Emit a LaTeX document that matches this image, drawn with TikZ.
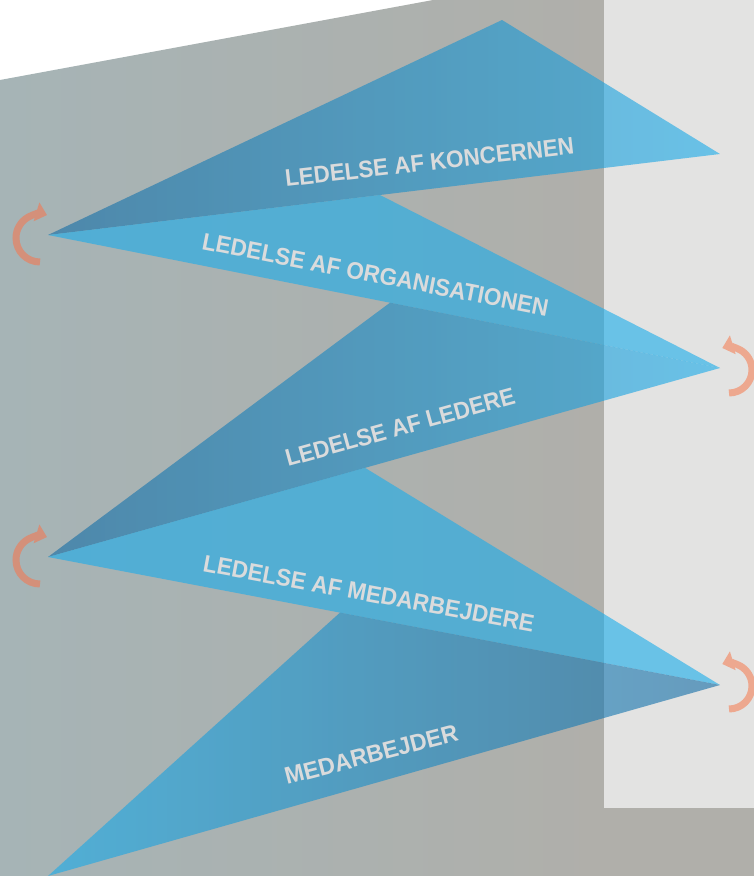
\documentclass[tikz,border=0pt]{standalone}
\usepackage{fontspec}
\setmainfont{Liberation Sans}
\usetikzlibrary{arrows.meta}
\definecolor{bgL}{RGB}{166,180,182}
\definecolor{bgR}{RGB}{176,175,170}
\definecolor{panel}{RGB}{227,227,226}
\definecolor{lblue}{RGB}{25,172,235}
\definecolor{dblue}{RGB}{19,107,164}
\definecolor{arrL}{RGB}{212,144,122}
\definecolor{arrR}{RGB}{237,168,143}
\definecolor{txt}{RGB}{218,219,220}
\begin{document}
\begin{tikzpicture}[x=1pt,y=-1pt,
  lbl/.style={anchor=base west, inner sep=0pt, text=txt, font=\fontsize{24}{24}\selectfont\bfseries},
  loop/.style={line width=7pt, -{Triangle[width=19pt,length=11pt]}},
  tri/.style={fill opacity=0.6}]
\useasboundingbox (0,0) rectangle (754,876);
% background
\shade[left color=bgL,right color=bgR] (0,80) -- (433,0) -- (604,0) -- (604,876) -- (0,876) -- cycle;
\fill[bgR] (604,808) rectangle (754,876);
\fill[panel] (604,0) rectangle (754,808);
% vertices
\coordinate (A) at (502,20);
\coordinate (B) at (720,154);
\coordinate (L1) at (48,235);
\coordinate (P2) at (380,195);
\coordinate (R1) at (720,368);
\coordinate (L2) at (48,557);
\coordinate (P3) at (390,302.7);
\coordinate (P4) at (365,467.8);
\coordinate (R2) at (720,685);
\coordinate (L3) at (48,876);
\coordinate (P5) at (340,612.6);
% triangles
\shade[tri, left color=dblue, right color=lblue] (L1) -- (A) -- (B) -- cycle;
\fill[tri, lblue] (L1) -- (P2) -- (R1) -- cycle;
\shade[tri, left color=dblue, right color=lblue] (L2) -- (P3) -- (R1) -- cycle;
\fill[tri, lblue] (L2) -- (P4) -- (R2) -- cycle;
\shade[tri, left color=lblue, right color=dblue] (L3) -- (P5) -- (R2) -- cycle;
% labels
\node[lbl, rotate=6.5] (t1) at (286,187) {\scalebox{0.935}[1]{LEDELSE AF KONCERNEN}};
\node[lbl, rotate=-11] (t2) at (201,249) {\scalebox{0.94}[1]{LEDELSE AF ORGANISATIONEN}};
\node[lbl, rotate=15.5] (t3) at (288,467) {\scalebox{0.935}[1]{LEDELSE AF LEDERE}};
\node[lbl, rotate=-10.5] (t4) at (202,571) {\scalebox{0.94}[1]{LEDELSE AF MEDARBEJDERE}};
\node[lbl, rotate=14.5] (t5) at (287,785) {\scalebox{0.96}[1]{MEDARBEJDER}};
% loop arrows
\coordinate (s1) at (40,262);
\coordinate (s2) at (729,393);
\coordinate (s3) at (40,584);
\coordinate (s4) at (729,709);
\draw[loop, arrL] (s1) arc[start angle=-90, end angle=-287, radius=24pt];
\draw[loop, arrR] (s2) arc[start angle=-90, end angle=107, radius=23pt];
\draw[loop, arrL] (s3) arc[start angle=-90, end angle=-287, radius=24pt];
\draw[loop, arrR] (s4) arc[start angle=-90, end angle=107, radius=23pt];
\end{tikzpicture}
\end{document}
